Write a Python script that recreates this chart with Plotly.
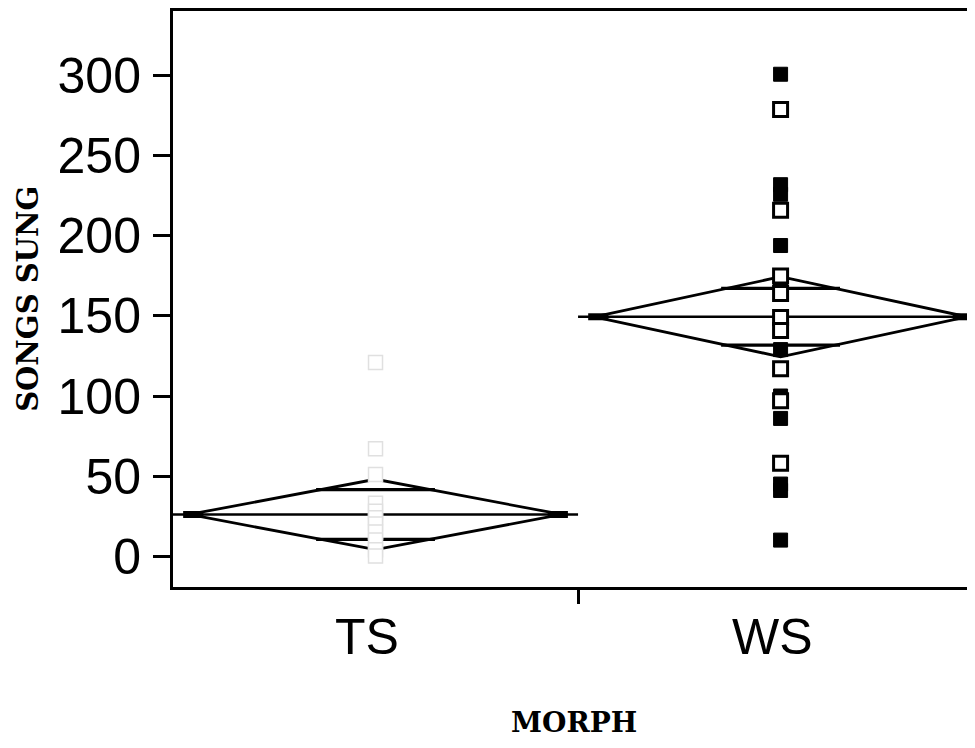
import math
import plotly.graph_objects as go

# ---- data ----
groups = ["TS", "WS"]
group_means = [26, 149.5]
diamond_half = [22, 25]

ts_values = [121, 67, 51, 33, 28, 24, 20, 15, 10, 4, 0]
ws_filled = [301, 232, 226, 194, 172, 168, 129, 100, 86, 45, 41, 10]
ws_open = [279, 216, 175, 164, 149, 141, 117, 97, 58]

y_ticks = [0, 50, 100, 150, 200, 250, 300]

# ---- geometry (category positions on a continuous x axis) ----
centers = [0.5, 1.5]
half_w = [0.46, 0.46]
mean_span = [(0.0, 1.0), (1.0, 1.98)]

fig = go.Figure()

for i, g in enumerate(groups):
    c, w, m, h = centers[i], half_w[i], group_means[i], diamond_half[i]
    # diamond
    fig.add_trace(go.Scatter(
        x=[c - w, c, c + w, c, c - w], y=[m, m + h, m, m - h, m],
        mode="lines", line=dict(color="black", width=2.8),
        hoverinfo="skip", showlegend=False))
    # mean line
    fig.add_trace(go.Scatter(
        x=list(mean_span[i]), y=[m, m], mode="lines",
        line=dict(color="black", width=2.6), hoverinfo="skip", showlegend=False))
    # thick ends at apexes
    for xa, xb in [(c - w - 0.015, c - w + 0.035), (c + w - 0.035, c + w + 0.015)]:
        fig.add_trace(go.Scatter(
            x=[xa, xb], y=[m, m], mode="lines",
            line=dict(color="black", width=7), hoverinfo="skip", showlegend=False))
    # overlap marks
    d = h / math.sqrt(2)
    hw = w * (1 - 1 / math.sqrt(2)) + 0.012
    for yy in (m + d, m - d):
        fig.add_trace(go.Scatter(
            x=[c - hw, c + hw], y=[yy, yy], mode="lines",
            line=dict(color="black", width=3.2), hoverinfo="skip", showlegend=False))

# points
fig.add_trace(go.Scatter(
    x=[centers[0]] * len(ts_values), y=ts_values, mode="markers",
    marker=dict(symbol="square", size=14, color="white",
                line=dict(color="#e0e0e0", width=1.5)),
    showlegend=False))
fig.add_trace(go.Scatter(
    x=[centers[1]] * len(ws_filled), y=ws_filled, mode="markers",
    marker=dict(symbol="square", size=14, color="black",
                line=dict(color="black", width=1)),
    showlegend=False))
fig.add_trace(go.Scatter(
    x=[centers[1]] * len(ws_open), y=ws_open, mode="markers",
    marker=dict(symbol="square", size=14, color="white",
                line=dict(color="black", width=3)),
    showlegend=False))

label_x = [0.48, 1.48]
annotations = [
    dict(x=label_x[i], y=-0.087, xref="x", yref="paper", text=g,
         showarrow=False, xanchor="center", yanchor="middle",
         font=dict(family="Liberation Sans, Arial", size=50, color="black"))
    for i, g in enumerate(groups)
]
annotations.append(dict(
    x=0.5, y=-0.235, xref="paper", yref="paper", text="<b>MORPH</b>",
    showarrow=False, xanchor="center", yanchor="middle",
    font=dict(family="DejaVu Serif", size=28, color="black")))
annotations.append(dict(
    x=-0.181, y=0.5, xref="paper", yref="paper", text="<b>SONGS SUNG</b>",
    showarrow=False, xanchor="center", yanchor="middle", textangle=-90,
    font=dict(family="DejaVu Serif", size=29, color="black")))

# page body adds an 8px margin; figure is sized/offset to compensate
fig.update_layout(
    width=967, height=740,
    margin=dict(l=165, r=0, t=0, b=161),
    paper_bgcolor="white", plot_bgcolor="white",
    annotations=annotations,
    xaxis=dict(range=[0, 1.98], showgrid=False, zeroline=False,
               showline=True, linecolor="black", linewidth=3, mirror=True,
               tickmode="array", tickvals=[1], ticktext=[""],
               ticks="outside", ticklen=14, tickwidth=3, tickcolor="black"),
    yaxis=dict(range=[-19.3, 340.5], showgrid=False, zeroline=False,
               showline=True, linecolor="black", linewidth=3, mirror=False,
               tickmode="array", tickvals=y_ticks,
               ticks="outside", ticklen=17, tickwidth=3, tickcolor="black",
               ticklabelstandoff=2,
               tickfont=dict(family="Liberation Sans, Arial", size=50, color="black")),
)

fig.write_html("out.html")
